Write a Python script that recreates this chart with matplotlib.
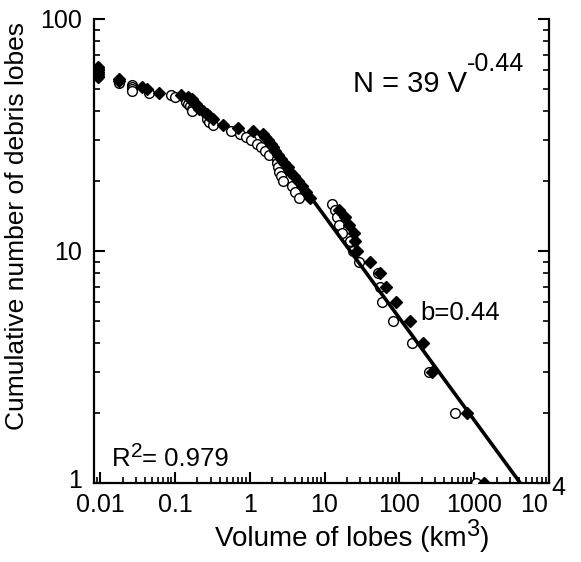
import matplotlib
matplotlib.use('Agg')
import matplotlib.pyplot as plt
import matplotlib.transforms as mtransforms
from matplotlib.ticker import FixedLocator, LogLocator, NullFormatter

plt.rcParams['font.family'] = ['Liberation Sans', 'DejaVu Sans']

# ---- data ----
diamond_volume = [0.0095, 0.0095, 0.0095, 0.0095, 0.0095, 0.0095, 0.0095,
                  0.018, 0.018, 0.036, 0.042, 0.062, 0.12, 0.15, 0.17, 0.175,
                  0.19, 0.2, 0.21, 0.24, 0.27, 0.29, 0.32, 0.44, 0.69, 1.1,
                  1.5, 1.6, 1.75, 1.9, 2.05, 2.2, 2.4, 2.65, 2.9, 3.2, 3.5,
                  3.9, 4.4, 5.0, 5.6, 6.3, 15.8, 18.5, 21.5, 25, 25.5, 27.5,
                  41, 55, 67, 91, 140, 208, 275, 810, 1350]
diamond_count = [62, 61, 60, 59, 58, 57, 56,
                 55, 54, 51, 50, 48, 47, 46, 45, 44,
                 43, 42, 41, 40, 39, 38, 37, 35, 34, 33,
                 32, 31, 30, 29, 28, 27, 26, 25, 24, 23, 22,
                 21, 20, 19, 18, 17, 15, 14, 13, 12, 11, 10,
                 9, 8, 7, 6, 5, 4, 3, 2, 1]

circle_volume = [0.0095, 0.0095, 0.0095, 0.0095, 0.0095,
                 0.018, 0.027, 0.027, 0.027, 0.027, 0.045, 0.09, 0.1,
                 0.14, 0.14, 0.15, 0.16, 0.17, 0.17, 0.27, 0.29, 0.32,
                 0.57, 0.75, 0.9, 1.05, 1.25, 1.4, 1.6, 1.8,
                 2.3, 2.35, 2.4, 2.5, 2.6, 2.75, 3.7, 4.0, 4.5,
                 12.4, 13.6, 14.5, 15.5, 17, 22, 23.7, 29.3, 52.5, 55, 59,
                 83, 149, 250, 550, 1060]
circle_count = [61, 60, 59, 58, 57,
                53, 52, 51, 50, 49, 48, 47, 46,
                45, 44, 43, 42, 41, 40, 37, 36, 35,
                33, 32, 31, 30, 29, 28, 27, 26,
                25, 24, 23, 22, 21, 20, 19, 18, 17,
                16, 15, 14, 13, 12, 11, 10, 9, 8, 7, 6,
                5, 4, 3, 2, 1]

fit_coef = 39
fit_exp = -0.44
fit_vmin = 1.45

x_ticks = [0.01, 0.1, 1, 10, 100, 1000, 10000]
x_tick_labels = ['0.01', '0.1', '1', '10', '100', '1000', '']
y_ticks = [1, 10, 100]
y_tick_labels = ['1', '10', '100']

W, H = 581, 562


def fx(px):
    return px / W


def fy(py):
    return 1 - py / H


fig = plt.figure(figsize=(W / 100, H / 100), dpi=100)
renderer = fig.canvas.get_renderer()


def compose(pieces, x_px, base_px, align='left'):
    """pieces: list of (text, fontsize, rise_px); drawn side by side on a baseline."""
    widths = []
    for txt, size, rise in pieces:
        t = fig.text(0, 0, txt, fontsize=size)
        widths.append(t.get_window_extent(renderer).width)
        t.remove()
    total = sum(widths)
    if align == 'center':
        x = x_px - total / 2
    elif align == 'right':
        x = x_px - total
    else:
        x = x_px
    for (txt, size, rise), w in zip(pieces, widths):
        fig.text(fx(x), fy(base_px - rise), txt, fontsize=size,
                 ha='left', va='baseline')
        x += w


ax = fig.add_axes([fx(94), fy(483), (549 - 94) / W, (483 - 19) / H])
ax.set_xscale('log')
ax.set_yscale('log')
ax.set_xlim(0.0083, 1e4)
ax.set_ylim(1, 100)

ax.plot(circle_volume, circle_count, linestyle='none', marker='o', ms=7,
        mfc='white', mec='black', mew=1.0, zorder=3)
v_end = fit_coef ** (1 / -fit_exp)
fit_v = [fit_vmin, v_end]
fit_n = [fit_coef * v ** fit_exp for v in fit_v]
ax.plot(fit_v, fit_n, color='black', lw=2.6, zorder=4, solid_capstyle='butt')
ax.plot(diamond_volume, diamond_count, linestyle='none', marker='D', ms=6.3,
        mfc='black', mec='black', zorder=5)

ax.xaxis.set_major_locator(FixedLocator(x_ticks))
ax.set_xticklabels(x_tick_labels)
ax.xaxis.set_minor_locator(LogLocator(base=10, subs=range(2, 10), numticks=20))
ax.xaxis.set_minor_formatter(NullFormatter())
ax.yaxis.set_major_locator(FixedLocator(y_ticks))
ax.set_yticklabels(y_tick_labels)
ax.yaxis.set_minor_locator(LogLocator(base=10, subs=range(2, 10), numticks=20))
ax.yaxis.set_minor_formatter(NullFormatter())

ax.tick_params(axis='both', which='major', direction='in', length=8, width=1.5,
               labelsize=18, right=True, top=False)
ax.tick_params(axis='both', which='minor', direction='in', length=4.5, width=1.2,
               right=True, top=False)
ax.tick_params(axis='x', which='major', pad=7)
ax.tick_params(axis='y', which='major', pad=9)

ax.spines['top'].set_visible(False)
for s in ['left', 'right', 'bottom']:
    ax.spines[s].set_linewidth(1.6)

# lift the "1" label on the y axis a little, as in the reference
lbl1 = ax.get_yticklabels()[0]
lbl1.set_transform(lbl1.get_transform() +
                   mtransforms.ScaledTranslation(0, 5 / 100, fig.dpi_scale_trans))

# last x tick label "10^4" with a large raised exponent, on the tick-label baseline
fig.canvas.draw()
bb = ax.get_xticklabels()[5].get_window_extent(renderer)
fig.text(fx(548), bb.y0 / H, '10', fontsize=18, ha='right', va='bottom')
fig.text(fx(551), (bb.y0 + 17) / H, '4', fontsize=18, ha='left', va='bottom')

# axis titles
compose([('Volume of lobes (km', 20, 0), ('3', 17, 10), (')', 20, 0)],
        352, 546, align='center')
fig.text(fx(17), fy(226), 'Cumulative number of debris lobes', ha='center',
         va='center', rotation=90, fontsize=19)

# annotations
compose([('N = 39 V', 21, 0), ('-0.44', 18, 21)], 353, 92)
fig.text(fx(420), fy(320), 'b=0.44', ha='left', va='baseline', fontsize=18.5)
compose([('R', 18.5, 0), ('2', 15, 9), ('= 0.979', 18.5, 0)], 112, 466)

fig.savefig('out.png', dpi=100)
